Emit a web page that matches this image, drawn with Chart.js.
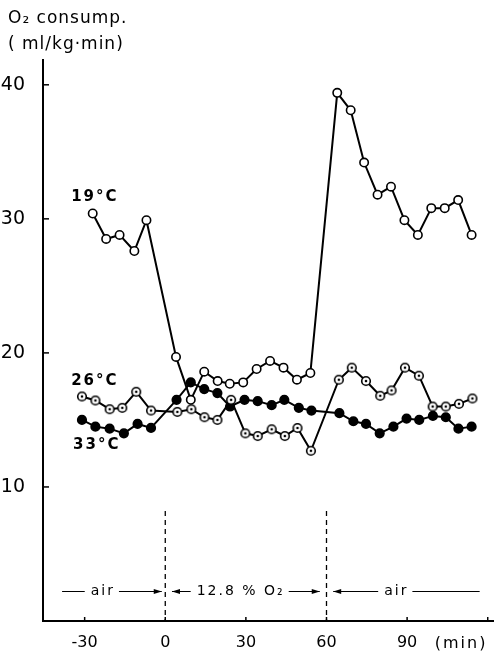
<!DOCTYPE html>
<html>
<head>
<meta charset="UTF-8">
<title>O2 consumption</title>
<script src="https://cdn.jsdelivr.net/npm/chart.js"></script>
<style>
  body { margin: 0; background: #fff; }
  canvas { display: block; }
</style>
</head>
<body>
<canvas id="myChart" width="499" height="651"></canvas>
<script>
// time (min) and O2 consumption (ml/kg·min)
const t19 = [-27, -22, -17, -11.5, -7, 4, 9.5, 14.5, 19.5, 24, 29, 34, 39, 44, 49, 54, 64, 69, 74, 79, 84, 89, 94, 99, 104, 109, 114];
const v19 = [30.4, 28.5, 28.8, 27.6, 29.9, 19.7, 16.5, 18.6, 17.9, 17.7, 17.8, 18.8, 19.4, 18.9, 18.0, 18.5, 39.4, 38.1, 34.2, 31.8, 32.4, 29.9, 28.8, 30.8, 30.8, 31.4, 28.8];

const t26 = [-31, -26, -20.7, -16, -10.8, -5.3, 4.5, 9.7, 14.6, 19.4, 24.5, 29.8, 34.4, 39.6, 44.5, 49.2, 54.2, 64.6, 69.4, 74.7, 80, 84.2, 89.2, 94.4, 99.5, 104.4, 109.3, 114.3];
const v26 = [16.75, 16.45, 15.8, 15.9, 17.1, 15.7, 15.6, 15.8, 15.2, 15.0, 16.5, 14.0, 13.8, 14.3, 13.8, 14.4, 12.7, 18.0, 18.9, 17.9, 16.8, 17.2, 18.9, 18.3, 16.0, 16.0, 16.2, 16.6];

const t33 = [-31, -26, -20.7, -15.4, -10.3, -5.3, 4.2, 9.5, 14.5, 19.4, 24.1, 29.5, 34.4, 39.6, 44.3, 49.7, 54.4, 64.8, 70, 74.7, 79.8, 84.9, 89.8, 94.5, 99.6, 104.4, 109.1, 114];
const v33 = [15.0, 14.5, 14.35, 14.0, 14.7, 14.4, 16.5, 17.8, 17.3, 17.0, 16.0, 16.5, 16.4, 16.1, 16.5, 15.9, 15.7, 15.5, 14.9, 14.7, 14.0, 14.5, 15.1, 15.0, 15.3, 15.2, 14.35, 14.5];

const xTickLabels = ['-30', '0', '30', '60', '90'];
const yTickLabels = ['10', '20', '30', '40'];
const switchTimes = [0, 60];

const FONT = '"DejaVu Sans", sans-serif';

function pairs(ts, vs) {
    return ts.map((t, i) => ({ x: t, y: vs[i] }));
}

// circle with a dot in the middle for the 26°C series
function dotCircle() {
    const c = document.createElement('canvas');
    c.width = 12; c.height = 12;
    const g = c.getContext('2d');
    g.beginPath();
    g.arc(6, 6, 4.3, 0, Math.PI * 2);
    g.fillStyle = '#fff';
    g.fill();
    g.lineWidth = 1.6;
    g.strokeStyle = '#000';
    g.stroke();
    g.beginPath();
    g.arc(6, 6, 1.3, 0, Math.PI * 2);
    g.fillStyle = '#000';
    g.fill();
    return c;
}

const decor = {
    id: 'decor',
    afterDraw(chart) {
        const { ctx, chartArea: area, scales: { x, y } } = chart;
        ctx.save();
        ctx.strokeStyle = '#000';
        ctx.fillStyle = '#000';

        // inward tick marks
        ctx.lineWidth = 1.5;
        yTickLabels.forEach(v => {
            const py = y.getPixelForValue(Number(v));
            ctx.beginPath();
            ctx.moveTo(area.left, py);
            ctx.lineTo(area.left + 6, py);
            ctx.stroke();
        });
        [-30, 0, 30, 60, 90, 120].forEach(v => {
            const px = x.getPixelForValue(v);
            ctx.beginPath();
            ctx.moveTo(px, area.bottom);
            ctx.lineTo(px, area.bottom - 4);
            ctx.stroke();
        });

        // dashed gas switch lines
        ctx.setLineDash([5, 4]);
        ctx.lineWidth = 1.3;
        switchTimes.forEach(t => {
            const px = x.getPixelForValue(t);
            ctx.beginPath();
            ctx.moveTo(px, y.getPixelForValue(8.2));
            ctx.lineTo(px, area.bottom);
            ctx.stroke();
        });
        ctx.setLineDash([]);

        // arrows with labels
        const ay = y.getPixelForValue(2.2);
        ctx.font = '14px ' + FONT;
        ctx.letterSpacing = '2px';
        ctx.textBaseline = 'middle';
        ctx.textAlign = 'center';
        ctx.lineWidth = 1;
        function head(px, dir) {
            ctx.beginPath();
            ctx.moveTo(px, ay);
            ctx.lineTo(px - dir * 8, ay - 2.5);
            ctx.lineTo(px - dir * 8, ay + 2.5);
            ctx.closePath();
            ctx.fill();
        }
        function arrow(t1, t2, tc, text, left, right) {
            const p1 = x.getPixelForValue(t1), p2 = x.getPixelForValue(t2), pc = x.getPixelForValue(tc);
            const w = ctx.measureText(text).width;
            ctx.fillText(text, pc + 1, ay);
            ctx.beginPath();
            ctx.moveTo(p1, ay); ctx.lineTo(pc - w / 2 - 5, ay);
            ctx.moveTo(pc + w / 2 + 5, ay); ctx.lineTo(p2, ay);
            ctx.stroke();
            if (left) head(p1, -1);
            if (right) head(p2, 1);
        }
        arrow(-38.4, -1.3, -23.6, 'air', false, true);
        arrow(2.5, 57.5, 27.7, '12.8 % O\u2082', true, true);
        arrow(62.5, 117, 85.6, 'air', true, false);

        // series labels
        ctx.font = 'bold 15px ' + FONT;
        ctx.letterSpacing = '2px';
        ctx.fillText('19°C', x.getPixelForValue(-26.2), y.getPixelForValue(31.6));
        ctx.fillText('26°C', x.getPixelForValue(-26.2), y.getPixelForValue(17.9));
        ctx.fillText('33°C', x.getPixelForValue(-25.5), y.getPixelForValue(13.1));

        // axis title and unit
        ctx.textAlign = 'left';
        ctx.textBaseline = 'alphabetic';
        ctx.font = '17px ' + FONT;
        ctx.letterSpacing = '1px';
        ctx.fillText('O\u2082 consump.', 8, 23);
        ctx.fillText('( ml/kg\u00b7min)', 8, 49);
        ctx.font = '16px ' + FONT;
        ctx.letterSpacing = '2px';
        ctx.fillText('(min)', x.getPixelForValue(100.3), area.bottom + 27);
        ctx.restore();
    }
};

const ctx = document.getElementById('myChart').getContext('2d');
const line = { borderColor: '#000', borderWidth: 2, tension: 0, pointBorderColor: '#000', pointBorderWidth: 1.6 };

new Chart(ctx, {
    type: 'line',
    data: {
        datasets: [
            Object.assign({ label: '19°C', data: pairs(t19, v19), pointRadius: 4.2, pointBackgroundColor: '#fff' }, line),
            Object.assign({ label: '26°C', data: pairs(t26, v26), pointStyle: dotCircle() }, line),
            Object.assign({ label: '33°C', data: pairs(t33, v33), pointRadius: 4.3, pointBackgroundColor: '#000' }, line)
        ]
    },
    options: {
        responsive: false,
        animation: false,
        layout: { padding: { top: 60, right: 2, left: 0, bottom: 0 } },
        plugins: { legend: { display: false }, tooltip: { enabled: false } },
        scales: {
            x: {
                type: 'linear',
                min: -45.5,
                max: 122,
                grid: { display: false },
                border: { display: true, color: '#000', width: 2 },
                afterFit: s => { s.height = 30; },
                ticks: {
                    stepSize: 30,
                    includeBounds: false,
                    maxRotation: 0,
                    padding: 4,
                    color: '#000',
                    font: { family: FONT, size: 16 },
                    callback: v => xTickLabels.includes(String(v)) ? String(v) : ''
                }
            },
            y: {
                min: 0,
                max: 41.85,
                grid: { display: false },
                border: { display: true, color: '#000', width: 2 },
                afterFit: s => { s.width = 43; },
                ticks: {
                    stepSize: 10,
                    padding: 10,
                    color: '#000',
                    font: { family: FONT, size: 19 },
                    callback: v => yTickLabels.includes(String(v)) ? String(v) : ''
                }
            }
        }
    },
    plugins: [decor]
});
</script>
</body>
</html>
